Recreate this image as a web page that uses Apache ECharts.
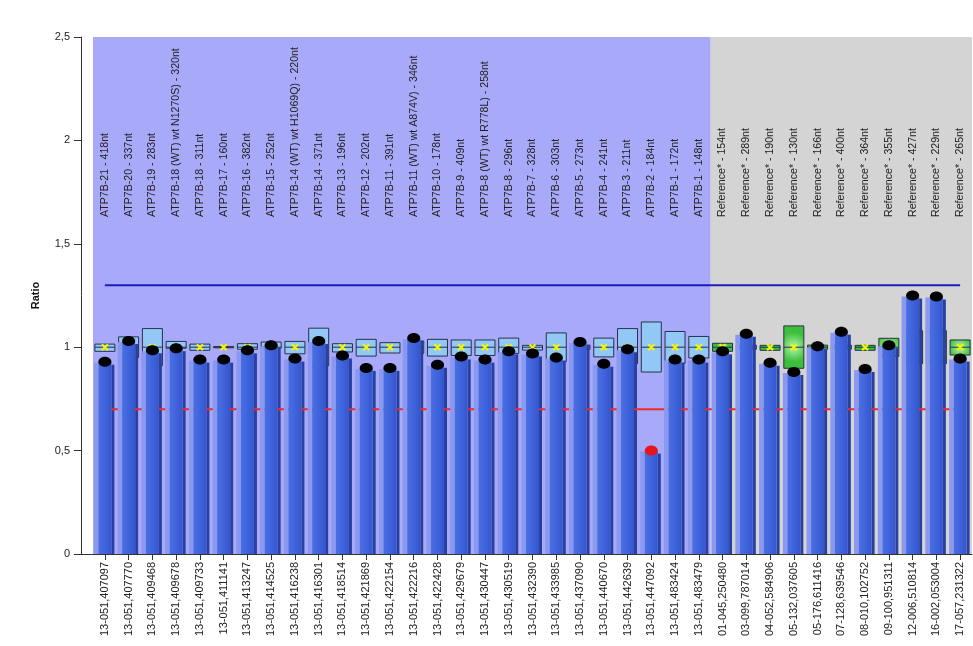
<!DOCTYPE html>
<html>
<head>
<meta charset="utf-8">
<script src="https://cdn.jsdelivr.net/npm/echarts@6/dist/echarts.min.js"></script>
<style>
  html, body { margin: 0; padding: 0; background: #ffffff; }
  #chart { width: 973px; height: 646px; }
</style>
</head>
<body>
<div id="chart"></div>
<script>
// Probe positions (x axis)
const probeIds = [
  '13-051,407097', '13-051,407770', '13-051,409468', '13-051,409678', '13-051,409733',
  '13-051,411141', '13-051,413247', '13-051,414525', '13-051,416238', '13-051,416301',
  '13-051,418514', '13-051,421869', '13-051,422154', '13-051,422216', '13-051,422428',
  '13-051,429679', '13-051,430447', '13-051,430519', '13-051,432390', '13-051,433985',
  '13-051,437090', '13-051,440670', '13-051,442639', '13-051,447092', '13-051,483424',
  '13-051,483479', '01-045,250480', '03-099,787014', '04-052,584906', '05-132,037605',
  '05-176,611416', '07-128,639546', '08-010,102752', '09-100,951311', '12-006,510814',
  '16-002,053004', '17-057,231322'
];

// Probe names written above each bar
const fragmentLabels = [
  'ATP7B-21 - 418nt', 'ATP7B-20 - 337nt', 'ATP7B-19 - 283nt', 'ATP7B-18 (WT) wt N1270S) - 320nt',
  'ATP7B-18 - 311nt', 'ATP7B-17 - 160nt', 'ATP7B-16 - 382nt', 'ATP7B-15 - 252nt',
  'ATP7B-14 (WT) wt H1069Q) - 220nt', 'ATP7B-14 - 371nt', 'ATP7B-13 - 196nt', 'ATP7B-12 - 202nt',
  'ATP7B-11 - 391nt', 'ATP7B-11 (WT) wt A874V) - 346nt', 'ATP7B-10 - 178nt', 'ATP7B-9 - 409nt',
  'ATP7B-8 (WT) wt R778L) - 258nt', 'ATP7B-8 - 296nt', 'ATP7B-7 - 328nt', 'ATP7B-6 - 303nt',
  'ATP7B-5 - 273nt', 'ATP7B-4 - 241nt', 'ATP7B-3 - 211nt', 'ATP7B-2 - 184nt',
  'ATP7B-1 - 172nt', 'ATP7B-1 - 148nt',
  'Reference* - 154nt', 'Reference* - 289nt', 'Reference* - 190nt', 'Reference* - 130nt',
  'Reference* - 166nt', 'Reference* - 400nt', 'Reference* - 364nt', 'Reference* - 355nt',
  'Reference* - 427nt', 'Reference* - 229nt', 'Reference* - 265nt'
];

// Sample ratio per probe
const ratios = [
  0.93, 1.03, 0.985, 0.995, 0.94, 0.94, 0.985, 1.01, 0.945, 1.03,
  0.96, 0.90, 0.90, 1.045, 0.915, 0.955, 0.94, 0.98, 0.97, 0.95,
  1.025, 0.92, 0.99, 0.50, 0.94, 0.94,
  0.98, 1.065, 0.925, 0.88, 1.005, 1.075, 0.895, 1.01, 1.25, 1.245, 0.945
];

// Reference range per probe (box low / median / high)
const boxLow = [
  0.98, 0.95, 0.91, 0.995, 0.985, 0.997, 0.99, 0.995, 0.968, 0.91,
  0.977, 0.957, 0.972, 0.97, 0.957, 0.96, 0.96, 0.97, 0.986, 0.93,
  0.99, 0.953, 0.92, 0.88, 0.922, 0.948,
  0.98, 0.99, 0.985, 0.898, 0.99, 0.99, 0.985, 0.955, 0.92, 0.92, 0.962
];
const boxMedian = [
  1, 1, 1, 1, 1, 1, 1, 1, 1, 1,
  1, 1, 1, 1, 1, 1, 1, 1, 1, 1,
  1, 1, 1, 1, 1, 1,
  1, 1, 1, 1, 1, 1, 1, 1, 1, 1, 1
];
const boxHigh = [
  1.015, 1.05, 1.09, 1.028, 1.015, 1.003, 1.017, 1.025, 1.028, 1.092,
  1.017, 1.038, 1.022, 1.03, 1.038, 1.035, 1.035, 1.044, 1.009, 1.069,
  1.01, 1.044, 1.09, 1.122, 1.076, 1.052,
  1.019, 1.01, 1.009, 1.103, 1.01, 1.01, 1.009, 1.043, 1.08, 1.08, 1.035
];

// Threshold lines
const upperLimit = 1.3;
const lowerLimit = 0.7;

const yAxisOffset = 12;
const FONT = '"Liberation Sans", Arial, sans-serif';

const isReference = fragmentLabels.map(s => s.indexOf('Reference') === 0);

// contiguous groups of probes (target vs reference) for the shaded bands
const groups = [];
isReference.forEach((ref, i) => {
  const last = groups[groups.length - 1];
  if (last && last.ref === ref) last.end = i;
  else groups.push({ ref: ref, start: i, end: i });
});

const barData = probeIds.map((_, i) => [i, ratios[i]]);

const chart = echarts.init(document.getElementById('chart'), null, { renderer: 'canvas' });

const option = {
  animation: false,
  backgroundColor: '#ffffff',
  grid: { left: 93, right: 1, top: 37, bottom: 92, containLabel: false },
  xAxis: {
    type: 'category',
    data: probeIds,
    boundaryGap: true,
    axisLine: { show: true, lineStyle: { color: '#333', width: 1 } },
    axisTick: { show: true, alignWithLabel: true, length: 6, lineStyle: { color: '#333' } },
    axisLabel: {
      rotate: 90, interval: 0, margin: 8,
      fontFamily: FONT, fontSize: 11, color: '#222'
    },
    splitLine: { show: false }
  },
  yAxis: {
    type: 'value',
    min: 0, max: 2.5, interval: 0.5,
    offset: yAxisOffset,
    name: 'Ratio',
    nameLocation: 'middle',
    nameGap: 40,
    nameRotate: 90,
    nameTextStyle: { fontFamily: FONT, fontSize: 11, fontWeight: 'bold', color: '#111' },
    axisLine: { show: true, lineStyle: { color: '#333', width: 1 } },
    axisTick: { show: true, length: 7, lineStyle: { color: '#333' } },
    axisLabel: {
      margin: 11, fontFamily: FONT, fontSize: 11, color: '#222',
      formatter: v => String(v).replace('.', ',')
    },
    splitLine: { show: false }
  },
  series: [
    {
      // shaded bands behind target / reference probes
      type: 'custom',
      z: 1,
      silent: true,
      data: groups.map(g => [g.start, g.end, g.ref ? 1 : 0]),
      renderItem: (params, api) => {
        const s = api.value(0), e = api.value(1), ref = api.value(2);
        const bw = api.size([1, 0])[0];
        const pTop = api.coord([s, 2.5]);
        const pBot = api.coord([e, 0]);
        const x0 = pTop[0] - bw / 2;
        const x1 = pBot[0] + bw / 2;
        const children = [{
          type: 'rect',
          shape: { x: x0, y: pTop[1], width: x1 - x0, height: pBot[1] - pTop[1] },
          style: { fill: ref ? '#d4d4d4' : '#a8aaf9' }
        }];
        if (s === 0) {
          children.push({
            type: 'line',
            shape: { x1: x0 - yAxisOffset, y1: pBot[1] + 0.5, x2: x0, y2: pBot[1] + 0.5 },
            style: { stroke: '#333', lineWidth: 1 }
          });
        }
        return { type: 'group', children: children };
      }
    },
    {
      // reference range boxes with median mark
      type: 'custom',
      z: 2,
      silent: true,
      data: probeIds.map((_, i) => [i, boxLow[i], boxMedian[i], boxHigh[i], isReference[i] ? 1 : 0]),
      renderItem: (params, api) => {
        const i = api.value(0);
        const lo = api.coord([i, api.value(1)]);
        const md = api.coord([i, api.value(2)]);
        const hi = api.coord([i, api.value(3)]);
        const ref = api.value(4);
        const cx = md[0];
        const hw = 10;
        const fill = ref
          ? new echarts.graphic.RadialGradient(0.5, 0.5, 0.7, [
              { offset: 0, color: '#b8f5b0' },
              { offset: 1, color: '#3cbf3c' }
            ])
          : '#92c8f5';
        const k = 3;
        return {
          type: 'group',
          children: [
            {
              type: 'rect',
              shape: { x: cx - hw, y: hi[1], width: hw * 2, height: Math.max(lo[1] - hi[1], 1) },
              style: { fill: fill, stroke: '#27314a', lineWidth: 1 }
            },
            {
              type: 'line',
              shape: { x1: cx - hw, y1: md[1], x2: cx + hw, y2: md[1] },
              style: { stroke: '#27314a', lineWidth: 1 }
            },
            {
              type: 'line',
              shape: { x1: cx - k, y1: md[1] - k, x2: cx + k, y2: md[1] + k },
              style: { stroke: '#f5f500', lineWidth: 2 }
            },
            {
              type: 'line',
              shape: { x1: cx - k, y1: md[1] + k, x2: cx + k, y2: md[1] - k },
              style: { stroke: '#f5f500', lineWidth: 2 }
            }
          ]
        };
      }
    },
    {
      // dark shaded side of each bar
      type: 'custom',
      z: 3,
      silent: true,
      data: barData,
      renderItem: (params, api) => {
        const i = api.value(0), v = api.value(1);
        const top = api.coord([i, v]);
        const base = api.coord([i, 0]);
        return {
          type: 'rect',
          shape: { x: top[0] + 6.5, y: top[1] + 3, width: 3, height: base[1] - top[1] - 3 },
          style: { fill: '#2a40a0' }
        };
      }
    },
    {
      type: 'line',
      z: 4,
      silent: true,
      data: probeIds.map(() => upperLimit),
      symbol: 'none',
      lineStyle: { color: '#1c1cc0', width: 2 }
    },
    {
      type: 'line',
      z: 4,
      silent: true,
      data: probeIds.map(() => lowerLimit),
      symbol: 'none',
      lineStyle: { color: '#ee2a2a', width: 2 }
    },
    {
      // cylinder bars with ratio marker on top
      type: 'custom',
      z: 5,
      silent: true,
      data: barData,
      renderItem: (params, api) => {
        const i = api.value(0), v = api.value(1);
        const top = api.coord([i, v]);
        const base = api.coord([i, 0]);
        const cx = top[0], ty = top[1], by = base[1];
        const body = new echarts.graphic.LinearGradient(0, 0, 1, 0, [
          { offset: 0, color: '#4b6fe2' },
          { offset: 0.6, color: '#3d61da' },
          { offset: 1, color: '#3556cc' }
        ]);
        return {
          type: 'group',
          children: [
            {
              type: 'rect',
              shape: { x: cx - 11, y: ty + 1, width: 4.5, height: by - ty - 1 },
              style: { fill: '#8a98f0' }
            },
            {
              type: 'rect',
              shape: { x: cx - 6.5, y: ty, width: 13, height: by - ty },
              style: { fill: body }
            },
            {
              type: 'ellipse',
              shape: { cx: cx, cy: ty, rx: 6.5, ry: 5 },
              style: { fill: v < lowerLimit ? '#e8161c' : '#000000' }
            }
          ]
        };
      }
    },
    {
      // probe names above the bars
      type: 'custom',
      z: 6,
      silent: true,
      data: probeIds.map((_, i) => [i]),
      renderItem: (params, api) => {
        const i = api.value(0);
        const p = api.coord([i, 2.5]);
        return {
          type: 'text',
          x: p[0],
          y: p[1] + 180,
          rotation: Math.PI / 2,
          style: {
            text: fragmentLabels[i],
            align: 'left',
            verticalAlign: 'middle',
            font: '10.6px ' + FONT,
            fill: '#222'
          }
        };
      }
    }
  ]
};

chart.setOption(option);
</script>
</body>
</html>
